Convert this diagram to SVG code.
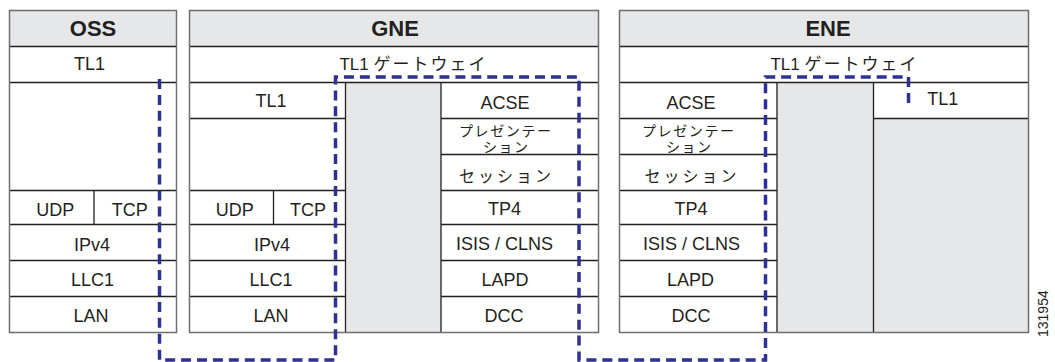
<svg xmlns="http://www.w3.org/2000/svg" width="1055" height="362" viewBox="0 0 1055 362">
<style>
.bg{fill:#ffffff}
.g{fill:#e6e7e8}
.box{fill:none;stroke:#6d6e71;stroke-width:1.5}
.ln{stroke:#231f20;stroke-width:1.3;fill:none}
.t{font-family:"Liberation Sans",Arial,sans-serif;font-size:18px;fill:#231f20;text-anchor:middle}
.h{font-family:"Liberation Sans",Arial,sans-serif;font-size:22px;font-weight:bold;fill:#231f20;text-anchor:middle}
.j{font-family:"Noto Sans CJK JP",sans-serif;fill:#231f20;text-anchor:middle}
.jl{font-family:"Liberation Sans",Arial,sans-serif}
.dash{fill:none;stroke:#2e3192;stroke-width:3.5;stroke-dasharray:10 5.924}
</style>
<rect x="0" y="0" width="1055" height="362" fill="#ffffff"/>

<g id="oss">
  <rect class="bg" x="9.5" y="10.5" width="167" height="322"/>
  <rect class="g" x="9.5" y="10.5" width="167" height="36"/>
  <path class="ln" d="M9.5 46.5H176.5M9.5 82.5H176.5M9.5 190.5H176.5M9.5 224.5H176.5M9.5 260.5H176.5M9.5 296.5H176.5M94 190.5V224.5"/>
  <rect class="box" x="9.5" y="10.5" width="167" height="322"/>
  <text class="h" x="93" y="35.5">OSS</text>
  <text class="t" x="89.5" y="70">TL1</text>
  <text class="t" x="55.3" y="216">UDP</text>
  <text class="t" x="129.7" y="216">TCP</text>
  <text class="t" x="92" y="250.5">IPv4</text>
  <text class="t" x="92.5" y="286">LLC1</text>
  <text class="t" x="91" y="321.5">LAN</text>
</g>

<g id="gne">
  <rect class="bg" x="189.5" y="10.5" width="409" height="322"/>
  <rect class="g" x="189.5" y="10.5" width="409" height="36"/>
  <rect class="g" x="345.5" y="82.5" width="95.5" height="250"/>
  <path class="ln" d="M189.5 46.5H598.5M189.5 82.5H598.5M189.5 118.5H345.5M189.5 190.5H345.5M189.5 224.5H345.5M189.5 260.5H345.5M189.5 296.5H345.5M273.5 190.5V224.5M345.5 82.5V332.5M441 82.5V332.5M441 118.5H598.5M441 154.5H598.5M441 190.5H598.5M441 224.5H598.5M441 260.5H598.5M441 296.5H598.5"/>
  <rect class="box" x="189.5" y="10.5" width="409" height="322"/>
  <text class="h" x="395" y="35.5">GNE</text>
  <text class="j" x="413.5" y="69.5" font-size="17"><tspan class="jl">TL1 </tspan><tspan letter-spacing="2">ゲートウェイ</tspan></text>
  <text class="t" x="271" y="106.5">TL1</text>
  <text class="t" x="234.7" y="216">UDP</text>
  <text class="t" x="308" y="216">TCP</text>
  <text class="t" x="272" y="250.5">IPv4</text>
  <text class="t" x="271" y="286">LLC1</text>
  <text class="t" x="271" y="321.5">LAN</text>
  <text class="t" x="505" y="108.5">ACSE</text>
  <text class="j" font-size="14" letter-spacing="1.6"><tspan x="505.8" y="136">プレゼンテー</tspan><tspan x="506.3" y="151.5">ション</tspan></text>
  <text class="j" x="506.5" y="181.5" font-size="16" letter-spacing="3">セッション</text>
  <text class="t" x="504.5" y="215">TP4</text>
  <text class="t" x="504.5" y="250">ISIS / CLNS</text>
  <text class="t" x="505" y="286">LAPD</text>
  <text class="t" x="504" y="321.5">DCC</text>
</g>

<g id="ene">
  <rect class="bg" x="619.5" y="10.5" width="409" height="322"/>
  <rect class="g" x="619.5" y="10.5" width="409" height="36"/>
  <rect class="g" x="777" y="82.5" width="96.5" height="250"/>
  <rect class="g" x="873.5" y="118.5" width="155" height="214"/>
  <path class="ln" d="M619.5 46.5H1028.5M619.5 82.5H1028.5M619.5 118.5H777M619.5 154.5H777M619.5 190.5H777M619.5 224.5H777M619.5 260.5H777M619.5 296.5H777M777 82.5V332.5M873.5 82.5V332.5M873.5 118.5H1028.5"/>
  <rect class="box" x="619.5" y="10.5" width="409" height="322"/>
  <text class="h" x="828" y="35.5">ENE</text>
  <text class="j" x="844.5" y="69.5" font-size="17"><tspan class="jl">TL1 </tspan><tspan letter-spacing="2">ゲートウェイ</tspan></text>
  <text class="t" x="691" y="108.5">ACSE</text>
  <text class="j" font-size="14" letter-spacing="1.6"><tspan x="688.8" y="136">プレゼンテー</tspan><tspan x="689.3" y="152">ション</tspan></text>
  <text class="j" x="692" y="181.5" font-size="16" letter-spacing="3">セッション</text>
  <text class="t" x="691" y="215">TP4</text>
  <text class="t" x="691.5" y="250">ISIS / CLNS</text>
  <text class="t" x="690.5" y="286">LAPD</text>
  <text class="t" x="691" y="321.5">DCC</text>
  <text class="t" x="927.3" y="105" style="text-anchor:start">TL1</text>
</g>

<g id="connectors">
  <path class="dash" d="M159.5 79V360H335.5V77H579V360H765.5V77H908.5V103"/>
</g>

<text x="1048" y="337" transform="rotate(-90 1048 337)" font-family="Liberation Sans, Arial, sans-serif" font-size="14" fill="#231f20">131954</text>
</svg>
